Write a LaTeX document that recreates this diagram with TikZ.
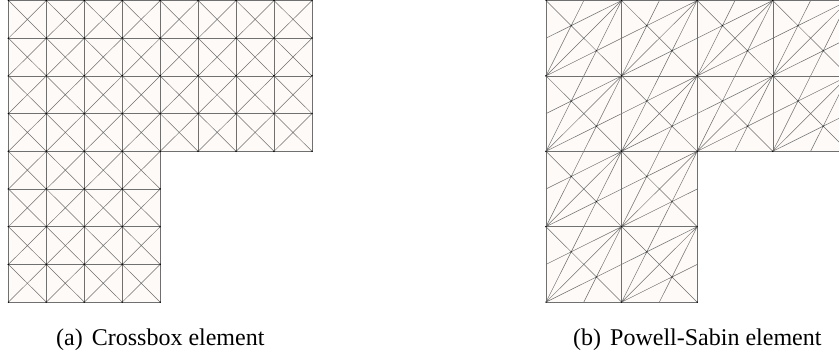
\documentclass[tikz,border=0pt]{standalone}
\usepackage{fontspec}
\setmainfont{Liberation Serif}
\definecolor{cellfill}{HTML}{FEFAF7}
\definecolor{meshline}{HTML}{707070}
\tikzset{
  mesh/.style={draw=meshline,line width=0.6pt,fill=cellfill},
  inner/.style={draw=meshline,line width=0.5pt},
  vertexdot/.style={fill=black,inner sep=0pt,minimum size=1.5pt,circle,draw=none},
  caption/.style={font=\fontsize{24}{28}\selectfont,inner sep=0pt,anchor=base west}
}
\begin{document}
\begin{tikzpicture}[x=1pt,y=-1pt]
\useasboundingbox (0,0) rectangle (839,357);
% Crossbox
\def\ax{8.4}\def\ay{0.5}\def\ahx{37.95}\def\ahy{37.7}
\foreach \i/\j in {0/0,1/0,2/0,3/0,4/0,5/0,6/0,7/0,0/1,1/1,2/1,3/1,4/1,5/1,6/1,7/1,0/2,1/2,2/2,3/2,4/2,5/2,6/2,7/2,0/3,1/3,2/3,3/3,4/3,5/3,6/3,7/3,0/4,1/4,2/4,3/4,0/5,1/5,2/5,3/5,0/6,1/6,2/6,3/6,0/7,1/7,2/7,3/7}{
  \begin{scope}[shift={({\ax+\i*\ahx},{\ay+\j*\ahy})},x=\ahx pt,y=-\ahy pt]
    \draw[mesh] (0,0) rectangle (1,1);
    \draw[inner] (0,0) -- (1,1) (0,1) -- (1,0);
    \node[vertexdot] at (0,0) {};
    \node[vertexdot] at (1,0) {};
    \node[vertexdot] at (0,1) {};
    \node[vertexdot] at (1,1) {};
  \end{scope}
}
% Powell-Sabin
\def\bx{546}\def\by{0.5}\def\bhx{75.6}\def\bhy{75.4}
\begin{scope}
\clip (0,0) rectangle (839,357);
\foreach \i/\j in {0/0,1/0,2/0,3/0,0/1,1/1,2/1,3/1,0/2,1/2,0/3,1/3}{
  \begin{scope}[shift={({\bx+\i*\bhx},{\by+\j*\bhy})},x=\bhx pt,y=-\bhy pt]
    \draw[mesh] (0,0) rectangle (1,1);
    % cell coordinates: y grows downward, so (0,1) is the lower left corner
    \draw[inner] (0,1) -- (1,0) (0,0) -- (1,1)
      (0,1) -- (.5,0) (0,1) -- (1,.5) (1,0) -- (0,.5) (1,0) -- (.5,1);
    \node[vertexdot] at (0,0) {};
    \node[vertexdot] at (1,0) {};
    \node[vertexdot] at (0,1) {};
    \node[vertexdot] at (1,1) {};
    \node[vertexdot,minimum size=1.1pt] at (1/3,1/3) {};
    \node[vertexdot,minimum size=1.1pt] at (2/3,2/3) {};
  \end{scope}
}
\end{scope}
\node[caption] (capa) at (56,345.7) {(a)\hspace{9pt}Crossbox element};
\node[caption] (capb) at (573,345.7) {(b)\hspace{9pt}Powell-Sabin element};
\end{tikzpicture}
\end{document}
